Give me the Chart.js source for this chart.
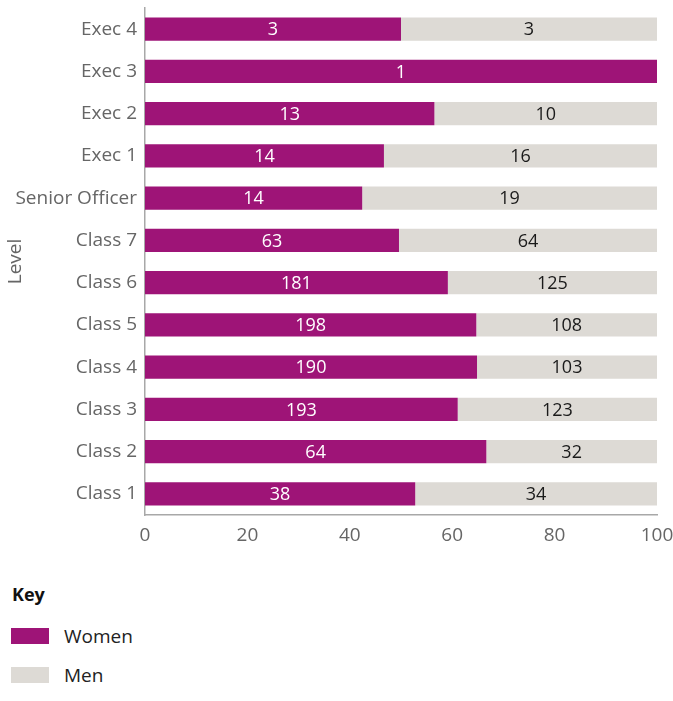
<!DOCTYPE html>
<html>
<head>
<meta charset="utf-8">
<script src="https://cdn.jsdelivr.net/npm/chart.js@4.4.0/dist/chart.umd.min.js"></script>
<style>
  body { margin: 0; background: #fff; font-family: "Open Sans", sans-serif; }
  #wrap { position: relative; width: 673px; height: 555px; }
  .key { position: absolute; left: 12px; top: 582px; font-size: 18px; font-weight: bold; color: #111; }
  .item { position: absolute; left: 11px; height: 16px; }
  .sw { position: absolute; left: 0; top: 0; width: 38px; height: 16px; }
  .lbl { position: absolute; left: 53px; top: -4px; font-size: 19px; color: #222; white-space: nowrap; line-height: 24px; }
</style>
</head>
<body>
<div id="wrap"><canvas id="chart"></canvas></div>
<div class="key">Key</div>
<div class="item" style="top:628px"><div class="sw" style="background:#9e1477"></div><div class="lbl">Women</div></div>
<div class="item" style="top:667px"><div class="sw" style="background:#dddad5"></div><div class="lbl">Men</div></div>
<script>
const niveaux = ['Exec 4', 'Exec 3', 'Exec 2', 'Exec 1', 'Senior Officer', 'Class 7', 'Class 6', 'Class 5', 'Class 4', 'Class 3', 'Class 2', 'Class 1'];
const femmes = [3, 1, 13, 14, 14, 63, 181, 198, 190, 193, 64, 38];
const hommes = [3, 0, 10, 16, 19, 64, 125, 108, 103, 123, 32, 34];
const ticksX = [0, 20, 40, 60, 80, 100];

const couleurFemmes = '#9e1477';
const couleurHommes = '#dddad5';
const police = '"Open Sans", sans-serif';

// Pourcentages pour la longueur des barres
const pctFemmes = femmes.map((f, i) => f / (f + hommes[i]) * 100);
const pctHommes = hommes.map((h, i) => h / (femmes[i] + h) * 100);

// Etiquettes au centre de chaque segment
const etiquettes = {
    id: 'etiquettes',
    afterDatasetsDraw(chart) {
        const ctx = chart.ctx;
        ctx.save();
        ctx.font = '18px ' + police;
        ctx.textAlign = 'center';
        ctx.textBaseline = 'middle';
        chart.data.datasets.forEach((ds, di) => {
            const meta = chart.getDatasetMeta(di);
            meta.data.forEach((bar, i) => {
                const n = ds.counts[i];
                if (!n) return;
                const p = bar.getCenterPoint();
                ctx.fillStyle = ds.labelColor;
                ctx.fillText(String(n), p.x, p.y + 1);
            });
        });
        ctx.restore();
    }
};

const ctx = document.getElementById('chart').getContext('2d');
new Chart(ctx, {
    type: 'bar',
    data: {
        labels: niveaux,
        datasets: [{
            label: 'Women',
            data: pctFemmes,
            counts: femmes,
            labelColor: '#ffffff',
            backgroundColor: couleurFemmes
        }, {
            label: 'Men',
            data: pctHommes,
            counts: hommes,
            labelColor: '#1a1a1a',
            backgroundColor: couleurHommes
        }]
    },
    options: {
        indexAxis: 'y',
        responsive: true,
        maintainAspectRatio: false,
        animation: false,
        layout: { padding: { top: 8, right: 16, left: 0, bottom: 0 } },
        datasets: { bar: { categoryPercentage: 1, barPercentage: 0.55 } },
        scales: {
            x: {
                stacked: true,
                min: 0,
                max: 100,
                afterBuildTicks: (s) => { s.ticks = ticksX.map(v => ({ value: v })); },
                afterFit: (s) => { s.height = 40; s.paddingRight = 0; s.paddingLeft = 0; },
                grid: { display: false, drawTicks: false },
                border: { display: true, color: '#a8a8a8', width: 1.5 },
                ticks: { padding: 9, color: '#666', font: { family: police, size: 19 } }
            },
            y: {
                stacked: true,
                afterFit: (s) => { s.width = 145; s.paddingTop = 0; s.paddingBottom = 0; },
                grid: { display: false, drawTicks: false },
                border: { display: true, color: '#a8a8a8', width: 1.5 },
                ticks: { padding: 8, color: '#666', font: { family: police, size: 19 } },
                title: { display: true, text: 'Level', color: '#666', padding: { top: 4, bottom: 0 }, font: { family: police, size: 19 } }
            }
        },
        plugins: {
            legend: { display: false },
            tooltip: { enabled: false }
        }
    },
    plugins: [etiquettes]
});
</script>
</body>
</html>
